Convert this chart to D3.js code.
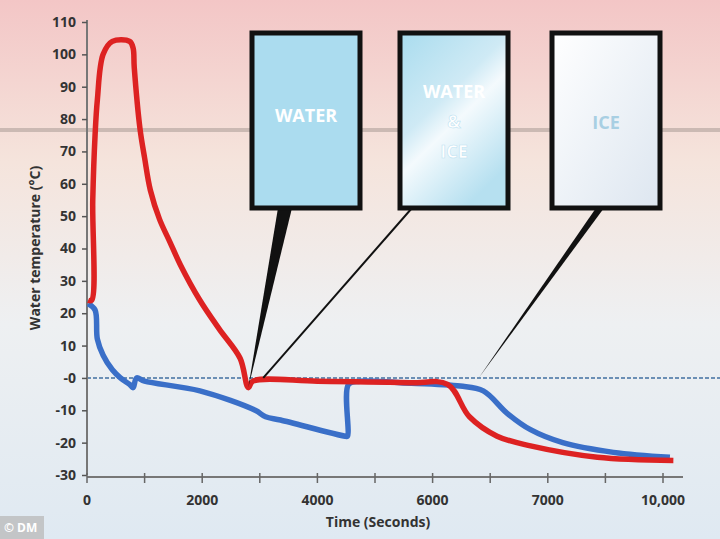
<!DOCTYPE html>
<html><head><meta charset="utf-8">
<script src="https://cdn.jsdelivr.net/npm/d3@7"></script>
<style>body{margin:0;overflow:hidden}</style></head>
<body><svg id="c" width="720" height="539"></svg>
<script>
// x values are in tick-slot units (the original axis has evenly spaced labels)
const xTickLabels = ["0","2000","4000","6000","7000","10,000"];
const yTicks = [110,100,90,80,70,60,50,40,30,20,10,0,-10,-20,-30];
const redX = [0.01,0.04,0.05,0.07,0.09,0.14,0.22,0.37,0.40,0.41,0.46,0.50,0.55,0.63,0.72,0.81,0.98,1.15,1.33,1.40,1.44,2.0,2.8,3.13,3.32,3.56,3.85,4.43,5.09];
const redY = [24,24,55,75,86,100,104,104,102,96,77,68,58,49,42,35,24,15,6,-3,-1,-1,-1.5,-2,-12,-18,-21,-24.5,-25.5];
const blueX = [0.01,0.07,0.09,0.14,0.22,0.29,0.37,0.40,0.43,0.50,0.98,1.46,1.55,1.68,2.24,2.26,2.27,2.37,2.72,3.24,3.44,3.65,3.85,4.13,4.57,5.06];
const blueY = [23,21,12,7,2.5,0,-2,-3,0,-1,-4,-10,-12,-13,-18,-18,-2,-1,-1.5,-2.5,-4,-11,-16,-20,-23,-24.5];
const boxLabels = [["WATER"],["WATER","&","ICE"],["ICE"]];
const calloutTargetsX = [1.40,1.53,3.4];
const calloutTargetsY = [-3,0,0];

const svg = d3.select("#c");
const defs = svg.append("defs");
const bg = defs.append("linearGradient").attr("id","bg").attr("x1",0).attr("x2",0).attr("y1",0).attr("y2",1);
bg.append("stop").attr("offset","0").attr("stop-color","#f3c6c6");
bg.append("stop").attr("offset","0.3").attr("stop-color","#f5e4dc");
bg.append("stop").attr("offset","0.6").attr("stop-color","#eef0f2");
bg.append("stop").attr("offset","1").attr("stop-color","#dfe9f2");
svg.append("rect").attr("width",720).attr("height",539).attr("fill","url(#bg)");
svg.append("rect").attr("y",128).attr("width",720).attr("height",4).attr("fill","#b9aaa4").attr("opacity",0.7);

const x = d3.scaleLinear().domain([0,5]).range([87,663]);
const y = d3.scaleLinear().domain([-30,110]).range([475,22]);

svg.append("line").attr("x1",87).attr("x2",720).attr("y1",y(0)).attr("y2",y(0))
  .attr("stroke","#6b8fb5").attr("stroke-width",2).attr("stroke-dasharray","4,2");

const ya = svg.append("g").attr("transform","translate(87,0)")
  .call(d3.axisLeft(y).tickValues(yTicks).tickSize(5).tickPadding(6).tickFormat(d=> d===0?"-0":d));
ya.select(".domain").attr("stroke","#777").attr("stroke-width",2).attr("d","M0,20V475");
ya.selectAll(".tick line").attr("stroke","#555").attr("stroke-width",1.5);
ya.selectAll("text").attr("font-family","Open Sans").attr("font-weight","bold").attr("font-size",14).attr("fill","#333");

const minor = d3.range(0,5.01,0.5);
const xa = svg.append("g").attr("transform","translate(0,477)");
xa.append("line").attr("x1",87).attr("x2",x(5)+20).attr("stroke","#777").attr("stroke-width",2);
xa.selectAll("line.t").data(minor).enter().append("line").attr("class","t")
  .attr("x1",d=>x(d)).attr("x2",d=>x(d)).attr("y1",-4).attr("y2",6).attr("stroke","#666").attr("stroke-width",1.5);
xa.selectAll("text").data(xTickLabels).enter().append("text")
  .attr("x",(d,i)=>x(i)).attr("y",28).attr("text-anchor","middle")
  .attr("font-family","Open Sans").attr("font-weight","bold").attr("font-size",14).attr("fill","#333").text(d=>d);

svg.append("text").attr("x",378).attr("y",527).attr("text-anchor","middle")
  .attr("font-family","Open Sans").attr("font-weight","bold").attr("font-size",14).attr("fill","#333").text("Time (Seconds)");
svg.append("text").attr("transform","translate(40,248) rotate(-90)").attr("text-anchor","middle")
  .attr("font-family","Open Sans").attr("font-weight","bold").attr("font-size",14).attr("fill","#333").text("Water temperature (°C)");

const line = d3.line().x(d=>x(d[0])).y(d=>y(d[1])).curve(d3.curveCatmullRom.alpha(0.5));
svg.append("path").datum(blueX.map((v,i)=>[v,blueY[i]])).attr("d",line)
  .attr("fill","none").attr("stroke","#3a6fc8").attr("stroke-width",5.5).attr("stroke-linejoin","round");
svg.append("path").datum(redX.map((v,i)=>[v,redY[i]])).attr("d",line)
  .attr("fill","none").attr("stroke","#dd2222").attr("stroke-width",5.5).attr("stroke-linejoin","round");

const boxX = [252,400,552], bw=108, by=33, bh=175;
const g1 = defs.append("linearGradient").attr("id","b2").attr("x1",0).attr("y1",0).attr("x2",0.6).attr("y2",1);
g1.append("stop").attr("offset","0").attr("stop-color","#a9dcee");
g1.append("stop").attr("offset","0.45").attr("stop-color","#cfeaf5");
g1.append("stop").attr("offset","0.6").attr("stop-color","#f4fafd");
g1.append("stop").attr("offset","1").attr("stop-color","#b6e0f0");
const g2 = defs.append("linearGradient").attr("id","b3").attr("x1",0).attr("y1",0).attr("x2",1).attr("y2",1);
g2.append("stop").attr("offset","0").attr("stop-color","#ffffff");
g2.append("stop").attr("offset","1").attr("stop-color","#dde6f0");
const fills = ["#abdcef","url(#b2)","url(#b3)"];
svg.append("path").attr("d",`M${boxX[0]+26},${by+bh} L${x(calloutTargetsX[0])},${y(calloutTargetsY[0])} L${boxX[0]+40},${by+bh}Z`).attr("fill","#111");
svg.append("line").attr("x1",boxX[1]+12).attr("y1",by+bh).attr("x2",x(calloutTargetsX[1])).attr("y2",y(calloutTargetsY[1])).attr("stroke","#111").attr("stroke-width",2);
svg.append("path").attr("d",`M${boxX[2]+44},${by+bh} L${x(calloutTargetsX[2])},${y(calloutTargetsY[2])} L${boxX[2]+52},${by+bh}Z`).attr("fill","#111");
boxX.forEach((bx,i)=>{
  svg.append("rect").attr("x",bx).attr("y",by).attr("width",bw).attr("height",bh)
    .attr("fill",fills[i]).attr("stroke","#111").attr("stroke-width",5);
  const lines = boxLabels[i];
  const ty0 = i===1 ? 98 : i===0 ? 122 : 129;
  lines.forEach((t,j)=>{
    svg.append("text").attr("x",bx+bw/2).attr("y",ty0+j*30).attr("text-anchor","middle")
      .attr("font-family","Open Sans").attr("font-weight","bold").attr("font-size",18)
      .attr("fill", i===2 ? "#a8cfe3" : "#ffffff")
      .attr("stroke", i===1 && j>0 ? "#bfe3f2" : "none").attr("stroke-width",0.6).text(t);
  });
});

svg.append("rect").attr("x",0).attr("y",516).attr("width",44).attr("height",23).attr("fill","#bbb").attr("opacity",0.8);
svg.append("text").attr("x",4).attr("y",532).attr("font-family","Open Sans").attr("font-weight","bold").attr("font-size",12).attr("fill","#fff").text("© DM");
</script></body></html>
